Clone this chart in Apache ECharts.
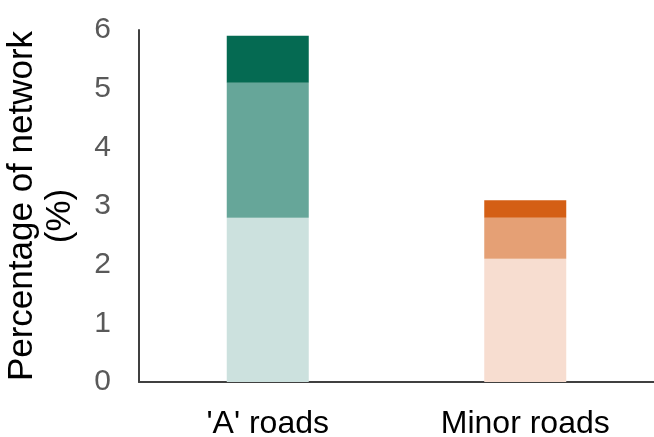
<!DOCTYPE html>
<html>
<head>
<meta charset="utf-8">
<script src="https://cdn.jsdelivr.net/npm/echarts@6/dist/echarts.min.js"></script>
<style>
  html, body { margin: 0; padding: 0; background: #fff; }
  #chart { width: 654px; height: 437px; }
</style>
</head>
<body>
<div id="chart"></div>
<script>
// data
const categories = ["'A' roads", 'Minor roads']
const baseValues = [2.8, 2.1]
const middleValues = [2.3, 0.7]
const topValues = [0.8, 0.3]
const yTicks = [0, 1, 2, 3, 4, 5, 6]

// colours per category: [A roads, Minor roads]
const baseColors = ['#CCE1DE', '#F7DDD0']
const middleColors = ['#66A699', '#E5A075']
const topColors = ['#056A52', '#D45F15']

const font = "'Liberation Sans', Arial, sans-serif"
const axisColor = '#404040'

function items(values, colors) {
  return values.map((v, i) => ({ value: v, itemStyle: { color: colors[i] } }))
}

const chart = echarts.init(document.getElementById('chart'))

const option = {
  animation: false,
  grid: { left: 139, right: 0, top: 30, bottom: 55, containLabel: false, outerBoundsMode: 'none' },
  xAxis: {
    type: 'category',
    data: categories,
    axisLine: { lineStyle: { color: axisColor, width: 2 } },
    axisTick: { show: false },
    axisLabel: { color: '#000', fontSize: 32, fontFamily: font, margin: 26 }
  },
  yAxis: {
    type: 'value',
    min: yTicks[0],
    max: yTicks[yTicks.length - 1],
    interval: 1,
    name: '{a|Percentage of network}\n{b|(%)}',
    nameLocation: 'middle',
    nameGap: 60,
    nameTextStyle: {
      color: '#000',
      fontFamily: font,
      rich: {
        a: { fontSize: 35, lineHeight: 38, fontFamily: font, color: '#000' },
        b: { fontSize: 35, lineHeight: 38, fontFamily: font, color: '#000', padding: [0, 20, 0, 0] }
      }
    },
    axisLine: { show: true, lineStyle: { color: axisColor, width: 2 } },
    axisTick: { show: false },
    splitLine: { show: false },
    axisLabel: { color: '#595959', fontSize: 30, fontFamily: font, margin: 28 }
  },
  series: [
    { name: 'base', type: 'bar', stack: 'total', barWidth: 82, data: items(baseValues, baseColors) },
    { name: 'middle', type: 'bar', stack: 'total', barWidth: 82, data: items(middleValues, middleColors) },
    { name: 'top', type: 'bar', stack: 'total', barWidth: 82, data: items(topValues, topColors) }
  ]
}

chart.setOption(option)
window.addEventListener('resize', () => { chart.resize() })
</script>
</body>
</html>
